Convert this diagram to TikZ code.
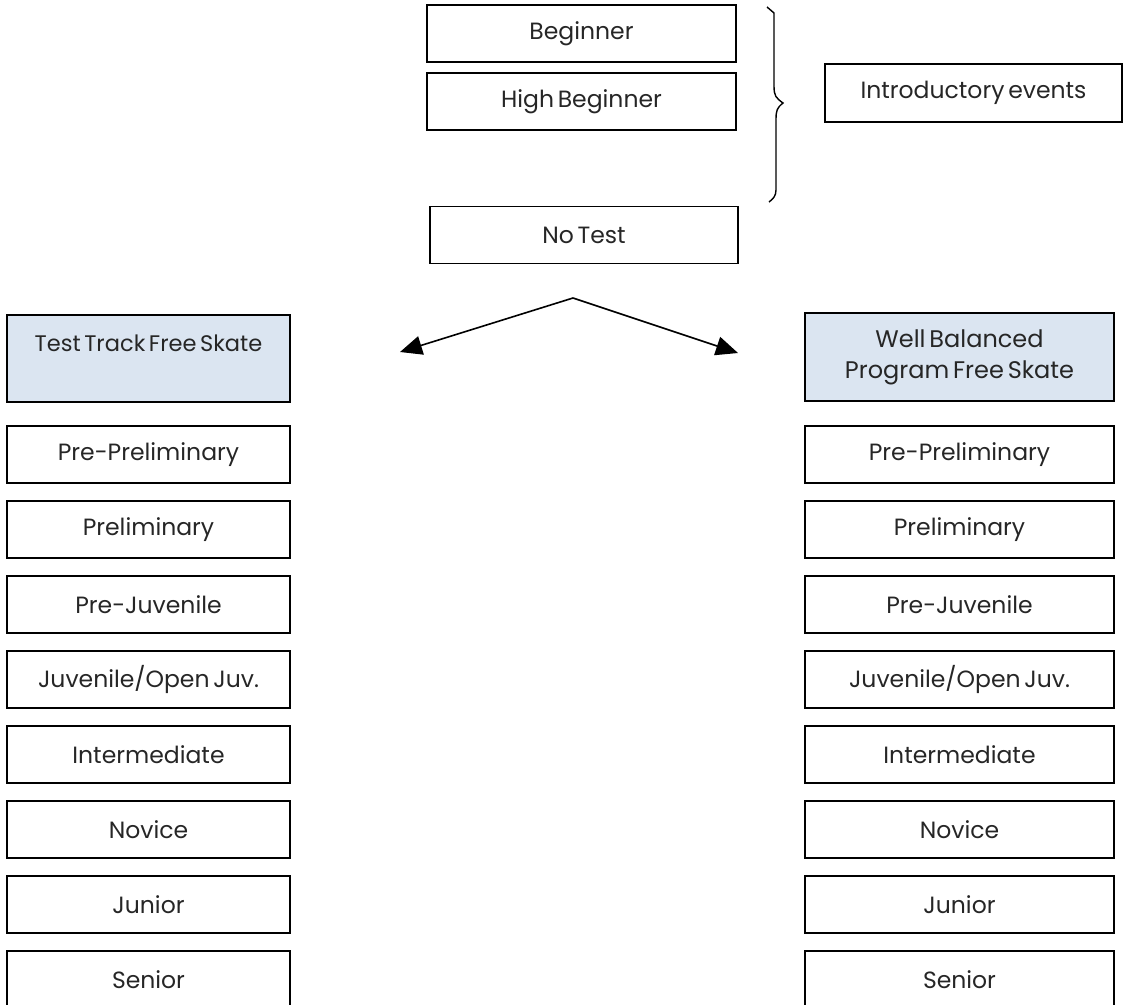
\documentclass[tikz,border=0pt]{standalone}
\usepackage{fontspec}
\setmainfont{Poppins}[WordSpace=0.6]
\usetikzlibrary{arrows.meta}
\definecolor{hdrblue}{HTML}{DBE5F1}
\tikzset{
  box/.style={draw=black, line width=1.6pt, minimum height=57pt, inner sep=0pt, font=\fontsize{23.5}{28}\selectfont, text=black!85},
  lbox/.style={box, minimum width=283pt},
  rbox/.style={box, minimum width=309pt},
  hdr/.style={fill=hdrblue},
  conn/.style={line width=1.6pt, -{Triangle[length=22pt,width=19pt]}},
}
\begin{document}
\begin{tikzpicture}[x=1pt,y=-1pt]
\useasboundingbox (0,0) rectangle (1123,1004);
% top
\node[box, minimum width=309pt] (beg) at (581.5,33.5) {Beginner};
\node[box, minimum width=309pt] (hbeg) at (581.5,101.5) {High Beginner};
\node[box, minimum width=308pt] (notest) at (584,235) {No Test};
\node[box, minimum width=297pt, minimum height=58pt] (intro) at (973.5,93) {Introductory events};
% brace
\draw[line width=1.4pt] (767,7) -- (774,13) -- (774,86) .. controls (774,96) and (776,98) .. (783,103)
  .. controls (777,108) and (776,110) .. (776,120) -- (776,190) .. controls (776,196) and (773,199) .. (769,202);
% headers
\node[lbox, hdr, minimum height=87pt] (tt) at (148.5,358.5) {};
\node[font=\fontsize{22.5}{27}\selectfont, text=black!85] (tttext) at (148.5,343) {Test Track Free Skate};
\node[rbox, hdr, minimum height=88pt, align=center, font=\fontsize{24}{31}\selectfont] (wb) at (959.5,357) {Well Balanced\\Program Free Skate};
% arrows
\coordinate (apex) at (573,298);
\coordinate (ltip) at (400,352);
\coordinate (rtip) at (738,353);
\draw[conn] (apex) -- (ltip);
\draw[conn] (apex) -- (rtip);
% columns
\foreach \i/\t in {0/Pre-Preliminary,1/Preliminary,2/Pre-Juvenile,3/{Juvenile/Open Juv.},4/Intermediate,5/Novice,6/Junior,7/Senior}{
  \node[lbox] (l\i) at (148.5,454.5+75*\i) {\t};
  \node[rbox] (r\i) at (959.5,454.5+75*\i) {\t};
}
\end{tikzpicture}
\end{document}
